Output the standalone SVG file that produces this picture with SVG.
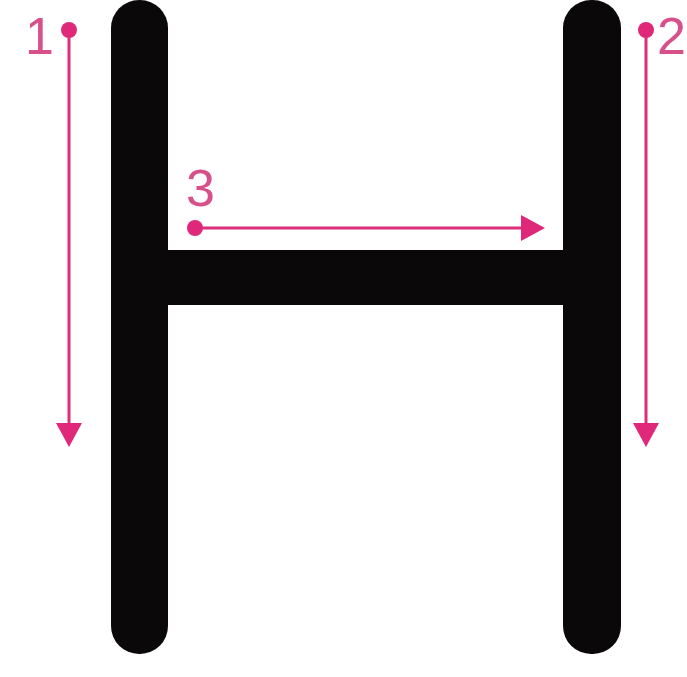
<svg xmlns="http://www.w3.org/2000/svg" width="687" height="677" viewBox="0 0 687 677">
<style>
.stroke{fill:#0a0808}
.guide{stroke:#dc2f78;stroke-width:3;fill:none}
.dot{fill:#e0287a}
.head{fill:#e0287a}
.num{font-family:"Liberation Sans",Arial,sans-serif;font-size:52px;fill:#d8508a}
</style>
<rect width="687" height="677" fill="#ffffff"/>
<g id="letter-H">
<rect class="stroke" x="111" y="0" width="57" height="654" rx="28" ry="28"/>
<rect class="stroke" x="563" y="0" width="58" height="654" rx="28" ry="28"/>
<rect class="stroke" x="150" y="250" width="430" height="55"/>
</g>
<g id="connectors">
<g id="arrow1">
<line class="guide" x1="69" y1="30" x2="69" y2="425"/>
<circle class="dot" cx="69" cy="30" r="8"/>
<polygon class="head" points="56,423 82,423 69,447"/>
</g>
<g id="arrow2">
<line class="guide" x1="646" y1="30" x2="646" y2="425"/>
<circle class="dot" cx="646" cy="30" r="8"/>
<polygon class="head" points="633,423 659,423 646,447"/>
</g>
<g id="arrow3">
<line class="guide" x1="195" y1="228" x2="525" y2="228"/>
<circle class="dot" cx="195" cy="228" r="8"/>
<polygon class="head" points="521,215 521,241 545,228"/>
</g>
</g>
<g id="labels">
<text class="num" x="25" y="54">1</text>
<text class="num" x="657" y="54">2</text>
<text class="num" x="186" y="206">3</text>
</g>
</svg>
